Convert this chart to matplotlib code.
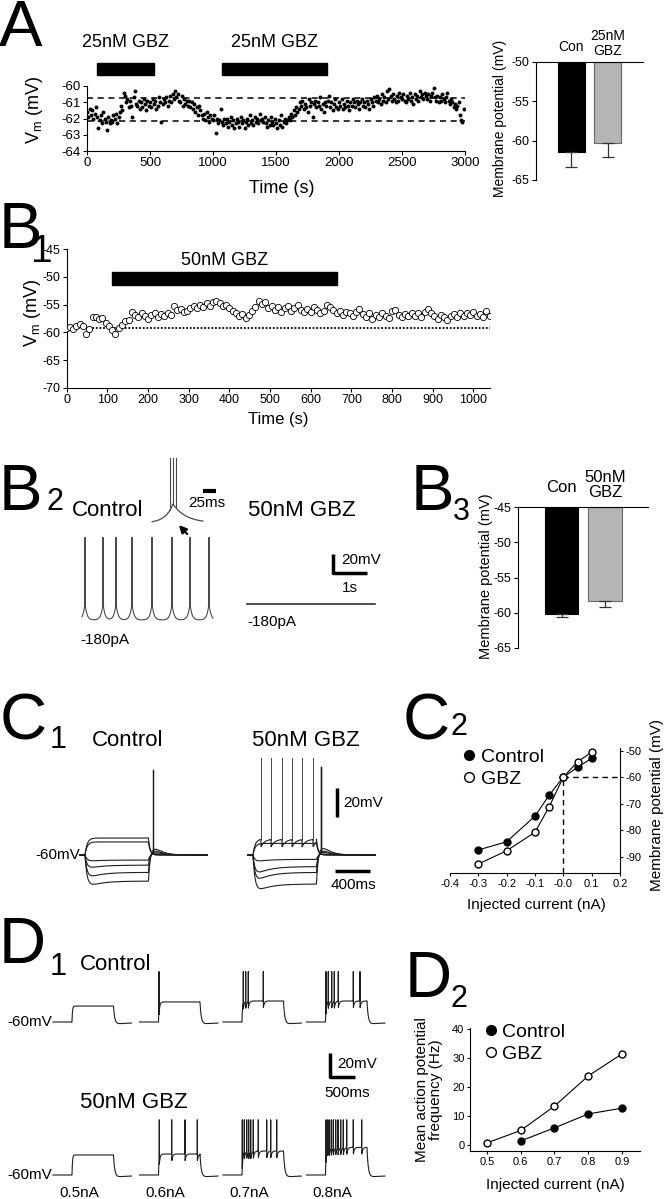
# Multi-panel GBZ figure (A, B1-B3, C1-C2, D1-D2) rebuilt with matplotlib.

import numpy as np
import matplotlib
matplotlib.use('Agg')
import matplotlib.pyplot as plt
from matplotlib.patches import Rectangle
from matplotlib.lines import Line2D

plt.rcParams['font.family'] = ['Liberation Sans', 'DejaVu Sans']
plt.rcParams['axes.unicode_minus'] = False
plt.rcParams['axes.linewidth'] = 0.8
plt.rcParams['path.simplify'] = False   # keep single-sample spikes

# ---------------- data ----------------
# A: membrane potential sampled every 10 s
a_time = np.arange(0, 3000, 10)
a_vm = [
    -61.6, -61.9, -61.4, -61.8, -61.5, -62.0, -61.7, -61.3, -61.9, -62.6,
    -62.1, -61.8, -62.3, -61.6, -62.0, -62.2, -62.7, -61.9, -62.3, -62.1,
    -62.2, -61.8, -62.0, -61.7, -62.3, -61.9, -61.6, -61.2, -61.5, -60.4,
    -60.6, -61.0, -60.8, -61.3, -60.9, -61.2, -61.9, -60.7, -60.3, -61.1,
    -61.2, -60.9, -61.4, -61.0, -61.3, -60.8, -61.1, -61.5, -60.9, -61.2,
    -61.0, -61.3, -60.8, -61.1, -60.9, -61.4, -61.2, -60.7, -61.0, -62.2,
    -61.1, -60.8, -61.0, -60.7, -61.2, -60.9, -60.6, -61.0, -60.5, -60.8,
    -60.3, -60.7, -60.5, -60.9, -61.0, -60.6, -61.2, -60.8, -61.1, -60.9,
    -61.2, -60.9, -61.3, -61.0, -61.4, -61.1, -61.6, -61.3, -61.8, -61.2,
    -61.5, -61.8, -62.0, -61.7, -62.1, -61.6, -61.9, -62.2, -61.8, -62.0,
    -62.1, -61.8, -62.9, -62.0, -62.3, -62.1, -61.4, -62.2, -62.4, -62.0,
    -62.3, -62.0, -62.5, -62.2, -61.9, -62.4, -62.1, -62.6, -62.3, -62.0,
    -62.2, -62.5, -61.9, -62.3, -62.1, -62.6, -62.2, -62.0, -62.4, -61.8,
    -62.3, -62.1, -62.4, -61.9, -62.2, -62.0, -62.3, -61.7, -62.1, -62.0,
    -62.2, -61.9, -62.3, -62.5, -62.1, -62.4, -61.9, -62.2, -62.4, -62.0,
    -62.3, -62.6, -62.1, -62.4, -61.8, -62.5, -62.2, -62.0, -62.3, -62.1,
    -61.9, -62.1, -61.7, -61.9, -61.5, -61.8, -61.3, -61.6, -61.4, -61.0,
    -61.2, -60.9, -61.4, -61.1, -61.3, -61.6, -60.8, -61.2, -61.0, -61.9,
    -61.1, -60.9, -61.3, -61.0, -61.2, -60.7, -61.4, -61.1, -61.6, -61.0,
    -61.2, -60.9, -60.6, -61.3, -61.0, -61.5, -61.1, -60.8, -61.3, -61.4,
    -61.0, -61.2, -60.8, -61.4, -61.1, -61.3, -60.9, -61.2, -61.5, -61.0,
    -61.2, -60.8, -61.0, -61.3, -60.9, -61.1, -61.4, -61.0, -60.8, -61.2,
    -61.0, -61.3, -60.9, -61.1, -61.4, -60.8, -61.0, -61.2, -60.7, -60.9,
    -60.6, -61.0, -60.8, -61.1, -60.5, -60.9, -60.7, -61.0, -60.3, -60.8,
    -60.2, -60.6, -60.9, -60.5, -60.8, -61.0, -60.6, -60.9, -60.4, -60.7,
    -60.8, -60.5, -60.9, -61.0, -60.6, -60.8, -60.4, -60.9, -60.7, -61.1,
    -60.5, -60.8, -60.6, -60.9, -60.3, -60.7, -60.5, -60.8, -60.4, -60.6,
    -60.8, -60.5, -60.9, -60.6, -60.4, -60.1, -60.7, -60.9, -60.6, -61.0,
    -60.7, -60.9, -60.5, -60.8, -61.0, -60.7, -60.4, -60.9, -61.1, -60.8,
    -61.0, -61.3, -61.1, -61.4, -61.2, -61.0, -61.8, -62.1, -62.2, -61.4,
]
a_gbz_periods = [(80, 530), (1070, 1905)]
a_dash_levels = [-60.75, -62.15]
a_bar_means = [-61.5, -60.25]
a_bar_errs = [1.8, 1.8]

# B1: membrane potential every 8 s
b1_time = np.arange(0, 1041, 8)
b1_vm = [
    -59.2, -59.0, -59.3, -58.8, -58.5, -58.9, -60.2, -59.4, -57.3, -57.2,
    -57.6, -57.4, -58.3, -58.9, -59.6, -60.3, -59.2, -58.6, -58.0, -57.8,
    -56.4, -56.8, -57.3, -56.6, -57.1, -57.5, -56.9, -56.5, -57.2, -56.7,
    -57.0, -56.6, -56.9, -55.3, -56.0, -55.8, -56.4, -56.1, -55.6, -55.2,
    -55.7, -55.0, -55.4, -54.8, -55.2, -54.6, -54.3, -54.8, -55.3, -55.0,
    -55.6, -56.1, -56.6, -57.0, -56.7, -57.4, -56.9, -56.2, -55.5, -54.4,
    -54.9, -54.6, -55.6, -55.2, -56.0, -55.4, -56.3, -55.7, -55.3, -56.1,
    -55.6, -55.1, -55.9, -56.4, -55.8, -56.3, -55.5, -56.0, -56.5, -56.2,
    -55.1, -55.4, -56.0, -56.5, -56.1, -56.8, -56.3, -56.6, -57.0, -56.4,
    -55.8, -56.7, -57.2, -56.5, -57.6, -56.9, -57.3, -56.6, -57.0, -57.4,
    -56.2, -55.9, -56.8, -57.3, -56.7, -57.1, -56.5, -57.0, -56.6, -57.2,
    -56.3, -55.8, -56.5, -57.0, -57.5, -56.8, -57.3, -57.7, -57.0, -56.7,
    -57.2, -56.6, -57.0, -56.5, -56.9, -56.3, -57.1, -56.7, -57.3, -56.2,
    -57.0,
]
b1_gbz_period = (111, 665)
b1_ref_level = -59.2

# B2: spontaneous firing (-180 pA)
b2_ctrl_spikes = [88, 618, 1000, 1470, 2059, 2647, 3176, 3735]   # ms
b2_ctrl_end = 3853
b2_gbz_span = (4853, 8617)
b2_gbz_level = -53.2
b2_inset_spikes = [-6, 0, 5]   # ms around the burst

# B3
b3_labels = ['Con', '50nM\nGBZ']
b3_means = [-60.2, -58.3]
b3_errs = [0.4, 0.9]

# C1: current steps, deflection from -60 mV (peak of sag, steady end)
c1_ctrl_peak = [11.7, 9.0, -4.5, -10.0, -17.0, -23.0]
c1_ctrl_end = [11.7, 9.0, -3.5, -7.0, -12.0, -18.0]
c1_ctrl_rebound = [False, False, False, False, True, True]
c1_gbz_peak = [11.0, 8.0, -5.0, -15.0, -20.0, -27.0]
c1_gbz_end = [11.0, 8.0, -3.0, -8.0, -12.0, -20.0]
c1_gbz_rebound = [False, False, False, True, True, True]
c1_gbz_spikes = [91, 206, 331, 446, 560, 686]   # ms, top sweep
c1_spike_top = 7.0       # mV
c1_ctrl_rebound_top = -1.4
c1_gbz_rebound_top = 0.7

# C2: I-V relation
c2_current = [-0.3, -0.2, -0.1, -0.05, 0.0, 0.05, 0.1]
c2_ctrl = [-87.5, -84.4, -74.7, -66.8, -60.0, -56.3, -52.9]
c2_gbz = [-92.8, -87.8, -80.8, -71.2, -60.0, -54.2, -50.6]

# D1: depolarising steps
d1_currents = ['0.5nA', '0.6nA', '0.7nA', '0.8nA']
d1_ctrl_levels = [13.3, 16.7, 17.5, 17.5]
d1_ctrl_spikes = [[], [10], [26, 74, 126, 426], [10, 56, 124, 176, 256, 556, 690]]
d1_gbz_levels = [16.7, 17.5, 20.0, 23.0]
d1_gbz_spikes = [[], [16, 264, 530, 776],
                 [6, 46, 94, 134, 174, 226, 326, 494, 574, 694],
                 [10, 44, 76, 116, 156, 204, 250, 304, 356, 424, 556, 724]]

# D2: firing frequency
d2_ctrl_current = [0.6, 0.7, 0.8, 0.9]
d2_ctrl_freq = [1.4, 5.9, 10.7, 12.7]
d2_gbz_current = [0.5, 0.6, 0.7, 0.8, 0.9]
d2_gbz_freq = [0.7, 5.0, 13.4, 23.8, 31.4]

# ---------------- helpers ----------------
W, H = 665, 1199
fig = plt.figure(figsize=(W / 100, H / 100), dpi=100)
TRACE = '#1e1e1e'
GREY_TRACE = '#4a4a4a'


def px_box(l, t, r, b):
    return [l / W, 1 - b / H, (r - l) / W, (b - t) / H]


def fig_text(x, y, s, **kw):
    fig.text(x / W, 1 - y / H, s, **kw)


def trace_axes(bx, t_ref_px, v_ref_px, v_ref, ms_px, mv_px):
    # axes in ms / mV, t=0 at x=t_ref_px, v_ref at y=v_ref_px
    l, t, r, b = bx
    ax = fig.add_axes(px_box(*bx))
    ax.set_xlim((l - t_ref_px) * ms_px, (r - t_ref_px) * ms_px)
    ax.set_ylim(v_ref - (b - v_ref_px) * mv_px, v_ref + (v_ref_px - t) * mv_px)
    ax.axis('off')
    return ax


def scalebar(ax, x, y, dx, dy, lw=2.5):
    ax.plot([x, x, x + dx], [y + dy, y, y], color='k', lw=lw, solid_capstyle='butt',
            clip_on=False)


def letter(x, y, s, sx, sy, sub, fs_sub=22):
    fig_text(x, y, s, fontsize=47, va='baseline')
    fig_text(sx, sy, sub, fontsize=fs_sub, va='baseline')


# ---------------- A ----------------
axA = fig.add_axes(px_box(87, 86, 465, 151))
axA.scatter(a_time, a_vm, s=8, color='k', linewidths=0, zorder=3)
for lvl in a_dash_levels:
    axA.axhline(lvl, color='k', lw=1.1, ls=(0, (4, 3)))
axA.set_xlim(0, 3000)
axA.set_ylim(-64, -60)
axA.set_xticks(range(0, 3001, 500))
axA.set_yticks(range(-64, -59))
for s, e in a_gbz_periods:
    axA.add_patch(Rectangle((s, -59.32), e - s, 0.74, color='k', clip_on=False))
    axA.text((s + e) / 2, -57.35, '25nM GBZ', ha='center', va='center', fontsize=13)
axA.spines[['top', 'right']].set_visible(False)
axA.tick_params(labelsize=9.5, length=3, pad=1.5)
axA.set_xlabel('Time (s)', fontsize=13)
axA.set_ylabel('V$_\\mathregular{m}$ (mV)', fontsize=13)
axA.xaxis.set_label_coords(0.516, -0.446)
axA.yaxis.set_label_coords(-0.111, 0.63)

# A bars
axAb = fig.add_axes(px_box(536, 62, 643, 180))
xs = np.arange(2)
axAb.bar(xs, np.array(a_bar_means) + 50, bottom=-50, width=0.75,
         color=['k', '#b5b5b5'], edgecolor=['k', '#666666'], linewidth=0.8)
axAb.errorbar(xs, a_bar_means, yerr=[a_bar_errs, [0, 0]], fmt='none', ecolor='#333333',
              elinewidth=0.9, capsize=4, capthick=0.9)
axAb.set_xlim(-0.986, 1.986)
axAb.set_ylim(-65, -50)
axAb.set_yticks([-65, -60, -55, -50])
axAb.set_xticks([])
axAb.spines[['right', 'bottom']].set_visible(False)
axAb.tick_params(labelsize=9, length=3, pad=1.5)
axAb.text(0, -48.1, 'Con', ha='center', va='center', fontsize=10)
axAb.text(1, -47.6, '25nM\nGBZ', ha='center', va='center', fontsize=10, linespacing=1.1)
axAb.set_ylabel('Membrane potential (mV)', fontsize=10)
axAb.yaxis.set_label_coords(-0.27, 0.525)

# ---------------- B1 ----------------
axB1 = fig.add_axes(px_box(66.7, 249, 489.6, 388))
axB1.scatter(b1_time, b1_vm, s=20, facecolors='white', edgecolors='k', linewidths=0.6, zorder=3)
axB1.axhline(b1_ref_level, color='k', lw=1.3, ls=(0, (1, 1)))
axB1.add_patch(Rectangle((b1_gbz_period[0], -51.4), b1_gbz_period[1] - b1_gbz_period[0], 2.3,
                         color='k'))
axB1.text(sum(b1_gbz_period) / 2, -47.0, '50nM GBZ', ha='center', va='center', fontsize=13)
axB1.set_xlim(0, 1040)
axB1.set_ylim(-70, -45)
axB1.set_xticks(range(0, 1001, 100))
axB1.set_yticks(range(-70, -44, 5))
axB1.spines[['top', 'right']].set_visible(False)
axB1.tick_params(labelsize=9, length=3, pad=1.5)
axB1.set_xlabel('Time (s)', fontsize=12)
axB1.set_ylabel('V$_\\mathregular{m}$ (mV)', fontsize=13)
axB1.xaxis.set_label_coords(0.5, -0.173)
axB1.yaxis.set_label_coords(-0.056, 0.54)

# ---------------- B2 ----------------
axB2 = trace_axes((60, 440, 400, 650), 82, 620, -70, 1000 / 34, 20 / 19)
t = np.arange(0, b2_ctrl_end, 1.0)
v = np.full_like(t, -70.0)
for s in b2_ctrl_spikes:
    v += 18 * np.exp(-np.abs(t - s) / 55)
for s in b2_ctrl_spikes:
    v[int(s)] = 17
axB2.plot(t, v, color=GREY_TRACE, lw=0.8)
axB2.plot(b2_gbz_span, [b2_gbz_level] * 2, color=TRACE, lw=1.1)
scalebar(axB2, 7382, -20.5, 1000, 20)
axB2.text(7617, -6.8, '20mV', ha='left', va='center', fontsize=11)
axB2.text(7882, -36.3, '1s', ha='center', va='center', fontsize=11)
axB2.annotate('', xy=(2794, 32.1), xytext=(3147, 18.4),
              arrowprops=dict(arrowstyle='-|>', color='k', lw=1.6, mutation_scale=11))
fig_text(80, 640, '-180pA', fontsize=11, va='center')
fig_text(247, 622, '-180pA', fontsize=11, va='center')
fig_text(72, 510, 'Control', fontsize=16, va='center')
fig_text(248, 510, '50nM GBZ', fontsize=16, va='center')

# inset burst
axIn = trace_axes((140, 450, 230, 530), 173, 523, -70, 25 / 13, 20 / 19)
ti = np.arange(-40, 58, 0.5)
vi = -70 + 20 * np.where(ti < 0, np.exp(ti / 15), np.exp(-ti / 25))
axIn.plot(ti, vi, color=GREY_TRACE, lw=0.9)
for s in b2_inset_spikes:
    base = -70 + 20 * np.exp(-abs(s) / (15 if s < 0 else 25))
    axIn.plot([s, s], [base, -1.6], color=GREY_TRACE, lw=0.8)
scalebar(axIn, 57.7, -36.3, 25, 0, lw=3)
axIn.text(65.4, -48.9, '25ms', ha='center', va='center', fontsize=11)

# ---------------- B3 ----------------
axB3 = fig.add_axes(px_box(518, 507, 648, 648))
axB3.bar(xs, np.array(b3_means) + 45, bottom=-45, width=0.77,
         color=['k', '#b5b5b5'], edgecolor=['k', '#666666'], linewidth=0.8)
axB3.errorbar(xs, b3_means, yerr=[b3_errs, [0, 0]], fmt='none', ecolor='#333333',
              elinewidth=0.9, capsize=4, capthick=0.9)
axB3.set_xlim(-1.02, 2.0)
axB3.set_ylim(-65, -45)
axB3.set_yticks(range(-65, -44, 5))
axB3.set_xticks([])
axB3.spines[['right', 'bottom']].set_visible(False)
axB3.tick_params(labelsize=9, length=3, pad=1.5)
axB3.text(0, -42.3, b3_labels[0], ha='center', va='center', fontsize=12)
axB3.text(1, -41.9, b3_labels[1], ha='center', va='center', fontsize=12, linespacing=1.0)
axB3.set_ylabel('Membrane potential (mV)', fontsize=10.5)
axB3.yaxis.set_label_coords(-0.19, 0.51)

# ---------------- C1 ----------------
axC1 = trace_axes((40, 745, 440, 905), 85, 855, -60, 400 / 35, 20 / 29)
C1_DUR, C1_PRE, C1_POST, C1_GBZ_START = 725, 60, 675, 1920
C1_REBOUND_T = C1_DUR + 52


def c1_sweep(peak, end, spikes=()):
    t = np.arange(-C1_PRE, C1_DUR + C1_POST, 1.0)
    on = np.clip(t, 0, None)
    dev = (1 - np.exp(-on / 25)) * (end + (peak - end) * np.exp(-on / 150))
    dev[t < 0] = 0
    last = end + (peak - end) * np.exp(-C1_DUR / 150)
    after = t >= C1_DUR
    dt = t[after] - C1_DUR
    bump = max(0.0, -last) * 0.25
    dev[after] = last * np.exp(-dt / 20) + bump * (dt / 60) * np.exp(1 - dt / 60)
    for s in spikes:
        k = (t > s) & (t < C1_DUR)
        dev[k] -= 5 * np.exp(-(t[k] - s) / 45)
    return t, dev - 60


def c1_draw(t0, peaks, ends, rebound, rebound_top, spikes=(), spike_color=TRACE):
    for i in range(len(peaks)):
        sp = spikes if i == 0 else ()
        tt, vv = c1_sweep(peaks[i], ends[i], sp)
        axC1.plot(tt + t0, vv, color=TRACE, lw=0.8)
        for s in sp:
            axC1.plot([t0 + s, t0 + s], [np.interp(s, tt, vv), c1_spike_top],
                      color=spike_color, lw=0.7)
        if rebound[i]:
            axC1.plot([t0 + C1_REBOUND_T] * 2, [np.interp(C1_REBOUND_T, tt, vv), rebound_top],
                      color=TRACE, lw=0.9)


c1_draw(0, c1_ctrl_peak, c1_ctrl_end, c1_ctrl_rebound, c1_ctrl_rebound_top)
c1_draw(C1_GBZ_START, c1_gbz_peak, c1_gbz_end, c1_gbz_rebound, c1_gbz_rebound_top,
        spikes=c1_gbz_spikes, spike_color=GREY_TRACE)
axC1.plot([2880, 2880], [-33.8, -13.8], color='k', lw=2.5, solid_capstyle='butt')
axC1.plot([2857, 3257], [-71, -71], color='k', lw=2.5, solid_capstyle='butt')
axC1.text(2949, -24.1, '20mV', ha='left', va='center', fontsize=11)
axC1.text(3063, -80.7, '400ms', ha='center', va='center', fontsize=11)
fig_text(80, 855, '-60mV', fontsize=11, ha='right', va='center')
fig_text(92, 740, 'Control', fontsize=16, va='center')
fig_text(252, 740, '50nM GBZ', fontsize=16, va='center')

# ---------------- C2 ----------------
axC2 = fig.add_axes(px_box(450, 748, 620, 873))
axC2.plot([0, 0], [-96.2, -60], color='k', lw=1, ls=(0, (4, 3)))
axC2.plot([0, 0.2], [-60, -60], color='k', lw=1, ls=(0, (4, 3)))
axC2.plot(c2_current, c2_ctrl, '-o', color='k', lw=0.8, ms=5, mfc='k', mec='k', zorder=3)
axC2.plot(c2_current, c2_gbz, '-o', color='k', lw=0.8, ms=5, mfc='white', mec='k', zorder=3)
axC2.set_xlim(-0.4, 0.2)
axC2.set_ylim(-96.2, -49)
axC2.set_xticks(np.round(np.arange(-0.4, 0.21, 0.1), 1))
axC2.set_xticklabels([f'{x:.1f}' for x in np.arange(-0.4, 0.21, 0.1)])
axC2.set_yticks(range(-90, -49, 10))
axC2.yaxis.tick_right()
axC2.yaxis.set_label_position('right')
axC2.spines[['top', 'left']].set_visible(False)
axC2.tick_params(labelsize=8, length=2.5, pad=1.5)
axC2.set_xlabel('Injected current (nA)', fontsize=11)
axC2.set_ylabel('Membrane potential (mV)', fontsize=11)
axC2.xaxis.set_label_coords(0.51, -0.2)
axC2.yaxis.set_label_coords(1.176, 0.544)
hand = [Line2D([], [], marker='o', ls='none', ms=7, mfc='k', mec='k'),
        Line2D([], [], marker='o', ls='none', ms=7, mfc='white', mec='k')]
axC2.legend(hand, ['Control', 'GBZ'], loc='upper left', bbox_to_anchor=(0.08, 1.0),
            frameon=False, fontsize=14, handlelength=0.6, handletextpad=0.3,
            borderpad=0, borderaxespad=0, labelspacing=0.25)

# ---------------- D1 ----------------
D1_DUR, D1_PRE, D1_POST = 830, 380, 360
d1_sweep_starts = [0, 1730, 3400, 5070]


def d1_sweep(level, spikes, top):
    t = np.arange(-D1_PRE, D1_DUR + D1_POST, 2.0)
    dev = np.zeros_like(t)
    on = (t >= 0) & (t < D1_DUR)
    dev[on] = level * (1 - np.exp(-t[on] / 10))
    off = t >= D1_DUR
    dt = t[off] - D1_DUR
    dev[off] = level * np.exp(-dt / 25) - 1.8 * (1 - np.exp(-dt / 25)) * np.exp(-dt / 500)
    for s in spikes:
        k = (t > s) & (t < D1_DUR)
        dev[k] -= 6 * np.exp(-(t[k] - s) / 20)
        dev[np.argmin(np.abs(t - s))] = top
    return t, dev - 60


axD1c = trace_axes((0, 930, 400, 1040), 72, 1022, -60, 20, 1 / 1.2)
axD1g = trace_axes((0, 1090, 400, 1185), 72, 1175, -60, 20, 1 / 1.2)
for i, t0 in enumerate(d1_sweep_starts):
    tt, vv = d1_sweep(d1_ctrl_levels[i], d1_ctrl_spikes[i], 42)
    axD1c.plot(tt + t0, vv, color=TRACE, lw=0.8)
    tt, vv = d1_sweep(d1_gbz_levels[i], d1_gbz_spikes[i], 46)
    axD1g.plot(tt + t0, vv, color=TRACE, lw=0.8)
    axD1g.text(t0 + 140, -75, d1_currents[i], ha='center', va='center', fontsize=11)
for ax in (axD1c, axD1g):
    ax.text(-400, -60, '-60mV', ha='right', va='center', fontsize=11)
scalebar(axD1g, 5160, 21.7, 500, 20)
axD1g.text(5300, 32.5, '20mV', ha='left', va='center', fontsize=11)
axD1g.text(5500, 8.3, '500ms', ha='center', va='center', fontsize=11)
fig_text(80, 965, 'Control', fontsize=16, va='center')
fig_text(80, 1102, '50nM GBZ', fontsize=16, va='center')

# ---------------- D2 ----------------
axD2 = fig.add_axes(px_box(470, 1028, 640, 1151))
axD2.plot(d2_ctrl_current, d2_ctrl_freq, '-o', color='k', lw=0.8, ms=5, mfc='k', mec='k')
axD2.plot(d2_gbz_current, d2_gbz_freq, '-o', color='k', lw=0.8, ms=5, mfc='white', mec='k')
axD2.set_xlim(0.45, 0.953)
axD2.set_ylim(-2.07, 40.3)
axD2.set_xticks([0.5, 0.6, 0.7, 0.8, 0.9])
axD2.set_yticks(range(0, 41, 10))
axD2.spines[['top', 'right']].set_visible(False)
axD2.tick_params(labelsize=8, length=2.5, pad=1.5)
axD2.set_xlabel('Injected current (nA)', fontsize=11)
axD2.set_ylabel('Mean action potential\nfrequency (Hz)', fontsize=11, linespacing=1.0)
axD2.xaxis.set_label_coords(0.5, -0.22)
axD2.yaxis.set_label_coords(-0.159, 0.496)
axD2.legend(hand, ['Control', 'GBZ'], loc='upper left', bbox_to_anchor=(0.088, 1.04),
            frameon=False, fontsize=14, handlelength=0.6, handletextpad=0.3,
            borderpad=0, borderaxespad=0, labelspacing=0.25)

# ---------------- panel letters ----------------
fig_text(-1, 46, 'A', fontsize=47, va='baseline')
letter(-1, 248, 'B', 31, 262, '1', fs_sub=28)
letter(-1, 510, 'B', 47, 510, '2')
letter(411, 510, 'B', 453, 520, '3')
letter(0, 740, 'C', 50, 748, '1')
letter(403, 740, 'C', 450, 735, '2')
letter(-1, 963, 'D', 50, 975, '1')
letter(405, 997, 'D', 450, 1007, '2')

fig.savefig('out.png', dpi=100)
